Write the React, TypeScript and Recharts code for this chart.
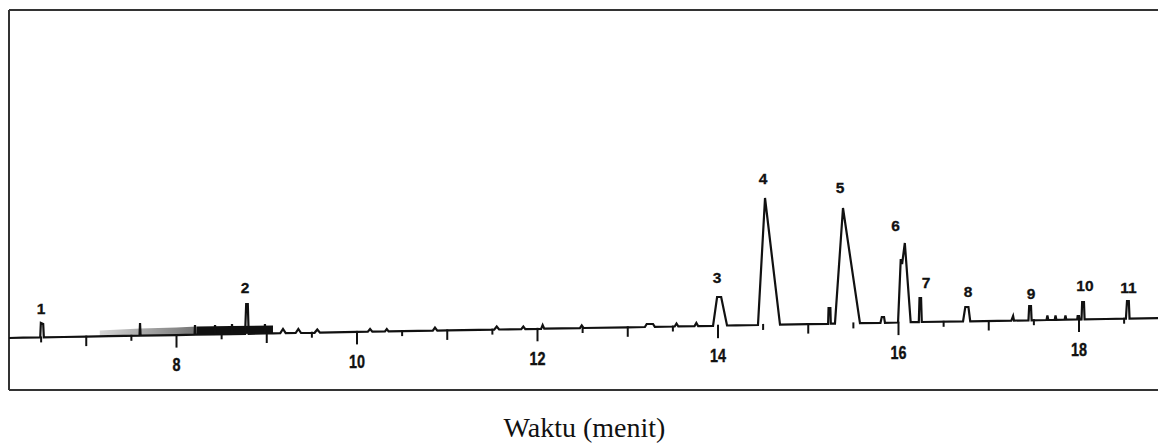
import {
  Area,
  ComposedChart,
  Line,
  ReferenceLine,
  Scatter,
  XAxis,
  YAxis,
} from "recharts";

// retention time (min) and detector response along the trace
const traceTime = [
  6.144, 6.3, 6.49, 6.497, 6.523, 6.53, 6.75, 7.0, 7.25, 7.59, 7.596, 7.602, 7.8, 8.0,
  8.2, 8.205, 8.21, 8.42, 8.427, 8.434, 8.61, 8.615, 8.62, 8.76, 8.772, 8.79, 8.8,
  8.975, 8.98, 8.985, 9.07, 9.15, 9.18, 9.21, 9.32, 9.35, 9.38, 9.53, 9.56, 9.59,
  10.0, 10.12, 10.145, 10.17, 10.31, 10.33, 10.35, 10.84, 10.864, 10.89, 11.0,
  11.52, 11.548, 11.575, 11.82, 11.843, 11.865, 12.04, 12.057, 12.075, 12.47, 12.49,
  12.51, 13.0, 13.19, 13.21, 13.28, 13.3, 13.52, 13.54, 13.56, 13.74, 13.76, 13.78,
  13.945, 13.99, 14.035, 14.1, 14.2, 14.443, 14.521, 14.687, 15.0, 15.22, 15.225,
  15.245, 15.25, 15.296, 15.385, 15.573, 15.8, 15.815, 15.84, 15.85, 15.995, 16.025,
  16.04, 16.07, 16.135, 16.225, 16.233, 16.25, 16.258, 16.715, 16.74, 16.775, 16.795,
  17.1, 17.25, 17.27, 17.28, 17.44, 17.448, 17.468, 17.475, 17.64, 17.65, 17.66,
  17.73, 17.74, 17.75, 17.84, 17.85, 17.86, 17.98, 17.985, 18.0, 18.005, 18.028,
  18.035, 18.055, 18.062, 18.3, 18.52, 18.532, 18.552, 18.56, 18.92,
];
const traceValue = [
  52.0, 52.3, 52.6, 67, 66, 52.6, 53.0, 53.4, 53.8, 54.3, 67, 54.3, 54.6, 54.9,
  55.3, 65, 55.3, 55.6, 65, 55.6, 55.9, 66, 55.9, 56.1, 86, 86, 56.2,
  56.5, 66, 56.5, 56.6, 56.8, 61, 56.8, 57.0, 61, 57.0, 57.2, 60.5, 57.3,
  58.1, 58.3, 61, 58.4, 58.6, 61, 58.6, 59.4, 62.5, 59.4, 59.6,
  60.4, 63.5, 60.5, 60.9, 63.5, 60.9, 61.2, 65, 61.3, 61.9, 64.5,
  62.0, 62.7, 63.0, 66, 66, 63.1, 63.5, 66.5, 63.6, 63.9, 67, 63.9,
  64.2, 93, 93, 64.5, 64.7, 65.0, 192, 65.4, 65.9, 66.2, 82,
  82, 66.3, 66.4, 182, 66.8, 67.1, 73, 73, 67.2, 67.5, 131,
  126, 147, 67.8, 67.9, 92, 92, 68.0, 68.6, 83, 83, 68.7,
  69.1, 69.4, 74, 69.4, 69.7, 84, 84, 69.7, 70.0, 74.5, 70.0,
  70.1, 74.5, 70.1, 70.3, 74.5, 70.3, 70.5, 74, 74, 70.5, 70.6,
  88, 88, 70.6, 71.0, 71.4, 89, 89, 71.4, 72.0,
];

// noisy stretch before 9 min: grey hatching then a dark block
const hatchTime = [7.15, 7.6, 8.0, 8.227];
const hatchLow = [54.1, 54.3, 54.9, 55.3];
const hatchHigh = [59.5, 61.5, 62.5, 63.5];
const blockTime = [8.227, 8.6, 9.069];
const blockLow = [55.3, 55.9, 56.6];
const blockHigh = [63.5, 64, 64.5];

// time scale marks drawn on the baseline
const scaleTime = [
  6.5, 7, 7.5, 8, 8.5, 9, 9.5, 10, 10.5, 11, 11.5, 12, 12.5, 13, 13.5, 14, 14.5, 15,
  15.5, 16, 16.5, 17, 17.5, 18, 18.5,
];
const scaleBase = [
  52.6, 53.4, 54.2, 54.9, 55.7, 56.5, 57.3, 58.1, 58.9, 59.6, 60.4, 61.2, 62.0, 62.7,
  63.5, 64.3, 65.1, 65.9, 66.6, 67.4, 68.2, 69.0, 69.8, 70.5, 71.3,
];
const scaleLabels = [8, 10, 12, 14, 16, 18];

// peak numbers and where they are written
const peakNames = ["1", "2", "3", "4", "5", "6", "7", "8", "9", "10", "11"];
const peakLabelTime = [6.499, 8.759, 13.989, 14.499, 15.352, 15.967, 16.305, 16.77, 17.468, 18.066, 18.548];
const peakLabelValue = [81.5, 103, 113, 211.5, 203, 165, 108, 99, 97, 104.5, 102.5];

const trace = traceTime.map((t, i) => ({ t, v: traceValue[i] }));
const hatch = hatchTime.map((t, i) => ({ t, band: [hatchLow[i], hatchHigh[i]] }));
const block = blockTime.map((t, i) => ({ t, band: [blockLow[i], blockHigh[i]] }));
const scaleMarks = scaleTime.map((t, i) => ({ t, v: scaleBase[i] }));
const peakLabels = peakNames.map((name, i) => ({ t: peakLabelTime[i], v: peakLabelValue[i], name }));

const X_MIN = 6.144;
const X_MAX = 18.964;
const INK = "#111";

function ScaleMark(props: any) {
  const { cx, cy, payload } = props;
  const major = scaleLabels.includes(payload.t);
  const whole = Number.isInteger(payload.t);
  const len = major ? 12.5 : whole ? 9.5 : 5;
  const txt = String(payload.t);
  return (
    <g>
      <line x1={cx} y1={cy - 1} x2={cx} y2={cy + len} stroke={INK} strokeWidth={2} />
      {major && (
        <text
          x={cx}
          y={cy + 36}
          textAnchor="middle"
          fontFamily="'Liberation Sans', Arial, sans-serif"
          fontWeight="bold"
          fontSize={19}
          textLength={txt.length * 8}
          lengthAdjust="spacingAndGlyphs"
          stroke={INK}
          strokeWidth={0.4}
          fill={INK}
        >
          {txt}
        </text>
      )}
    </g>
  );
}

function PeakLabel(props: any) {
  const { cx, cy, payload } = props;
  return (
    <text
      x={cx}
      y={cy + 5.6}
      textAnchor="middle"
      fontFamily="'Liberation Sans', Arial, sans-serif"
      fontWeight="bold"
      fontSize={15.5}
      stroke={INK}
      strokeWidth={0.3}
      fill={INK}
    >
      {payload.name}
    </text>
  );
}

export default function App() {
  return (
    <div style={{ width: 1158, height: 440 }}>
      <ComposedChart width={1158} height={440} margin={{ top: 2, right: 0, bottom: 0, left: 1 }}>
        <defs>
          <linearGradient id="hatchFill" x1="0" y1="0" x2="1" y2="0">
            <stop offset="0%" stopColor="#cfcfcf" />
            <stop offset="100%" stopColor="#5a5a5a" />
          </linearGradient>
        </defs>
        <XAxis
          type="number"
          dataKey="t"
          domain={[X_MIN, X_MAX]}
          allowDataOverflow
          tick={false}
          tickLine={false}
          axisLine={false}
          height={58}
          label={{
            value: "Waktu (menit)",
            position: "insideBottom",
            offset: 11,
            dx: -3,
            style: { fontFamily: "'Liberation Serif', 'Times New Roman', serif", fontSize: 28, fill: "#111" },
          }}
        />
        <YAxis type="number" dataKey="v" domain={[0, 380]} allowDataOverflow hide />
        <ReferenceLine x={X_MIN} stroke="#333" strokeWidth={2} />
        <ReferenceLine y={380} stroke="#333" strokeWidth={2} />
        <ReferenceLine y={0} stroke="#333" strokeWidth={2} />
        <Area
          data={hatch}
          dataKey="band"
          type="linear"
          stroke="none"
          fill="url(#hatchFill)"
          fillOpacity={0.85}
          isAnimationActive={false}
        />
        <Area
          data={block}
          dataKey="band"
          type="linear"
          stroke="none"
          fill="#101010"
          fillOpacity={1}
          isAnimationActive={false}
        />
        <Line
          data={trace}
          dataKey="v"
          type="linear"
          stroke={INK}
          strokeWidth={2.2}
          dot={false}
          isAnimationActive={false}
        />
        <Scatter data={scaleMarks} shape={ScaleMark} isAnimationActive={false} />
        <Scatter data={peakLabels} shape={PeakLabel} isAnimationActive={false} />
      </ComposedChart>
    </div>
  );
}
